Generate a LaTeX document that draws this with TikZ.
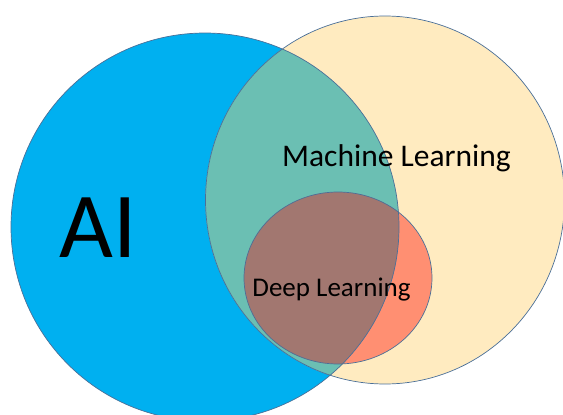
\documentclass[tikz,border=0pt]{standalone}
\usepackage{fontspec}
\setmainfont{Carlito}
\definecolor{aiblue}{HTML}{00B0F0}
\definecolor{mlyellow}{HTML}{FFEBC0}
\definecolor{mlteal}{HTML}{6BBFB3}
\definecolor{dlred}{HTML}{FF8F72}
\definecolor{dlbrown}{HTML}{A27770}
\definecolor{edge}{HTML}{4A6F98}
\begin{document}
\begin{tikzpicture}[x=1pt,y=-1pt,
  outline/.style={draw=edge,line width=0.7pt},
  label/.style={inner sep=0pt,text=black}]
\useasboundingbox (0,0) rectangle (563,415);
\clip (0,0) rectangle (563,415);
% set outlines
\def\aiset{(205,227) circle [radius=194]}
\def\mlset{(385,200) ellipse [x radius=179.5,y radius=184]}
\def\dlset{(338,278) ellipse [x radius=94,y radius=86]}
% base fills
\fill[aiblue] \aiset;
\fill[mlyellow] \mlset;
\begin{scope}
  \clip \aiset;
  \fill[mlteal] \mlset;
\end{scope}
\fill[dlred] \dlset;
\begin{scope}
  \clip \aiset;
  \fill[dlbrown] \dlset;
\end{scope}
% outlines
\draw[outline] \aiset;
\draw[outline] \mlset;
\draw[outline] \dlset;
% labels
\node[label,font=\fontsize{93}{93}\selectfont,anchor=base] (ai) at (98,257) {AI};
\node[label,font=\fontsize{31.5}{32}\selectfont,anchor=base] (ml) at (396.5,166) {Machine Learning};
\node[label,font=\fontsize{27}{28}\selectfont,anchor=base] (dl) at (331.5,296) {Deep Learning};
\end{tikzpicture}
\end{document}
